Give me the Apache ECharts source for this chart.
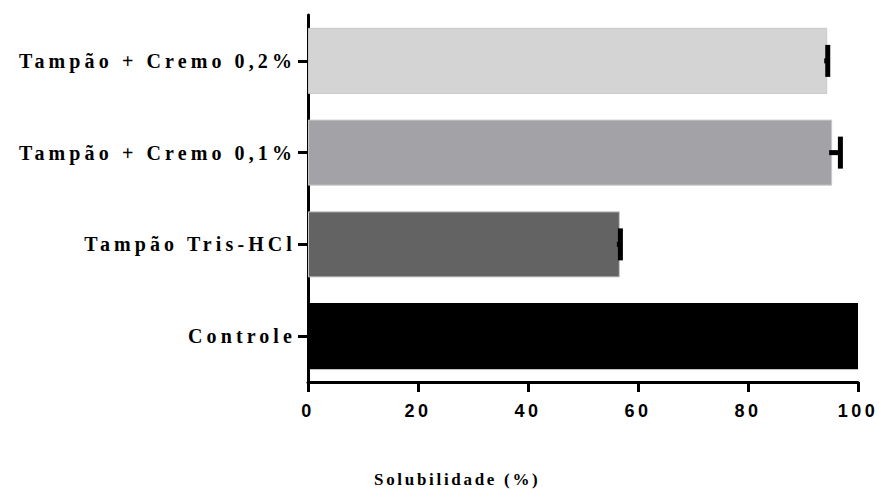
<!DOCTYPE html>
<html>
<head>
<meta charset="utf-8">
<script src="https://cdn.jsdelivr.net/npm/echarts@6/dist/echarts.min.js"></script>
<style>
html,body{margin:0;padding:0;background:#fff;}
#chart{width:879px;height:490px;}
#chart text[style*="Liberation Serif"]{letter-spacing:4.1px;}
#chart text[style*="Liberation Sans"]{letter-spacing:3.5px;}
#chart text[style*="17px"]{letter-spacing:2.7px;}
</style>
</head>
<body>
<div id="chart"></div>
<script>
// Data (bottom to top as drawn on the category axis)
const categories = ['Controle', 'Tampão Tris-HCl', 'Tampão + Cremo 0,1%', 'Tampão + Cremo 0,2%'];
const solubility = [100, 56.7, 95.3, 94.4];
const errorSD = [0, 0.1, 1.5, 0.1];
const barColors = ['#000000', '#636363', '#a3a2a7', '#d4d4d4'];
const xTicks = [0, 20, 40, 60, 80, 100];
const axisTitle = 'Solubilidade (%)';

const chart = echarts.init(document.getElementById('chart'), null, {renderer: 'svg'});

const barData = solubility.map((v, i) => ({
  value: v,
  itemStyle: {color: barColors[i], borderColor: i === 0 ? '#000' : '#c8c8c8', borderWidth: i === 0 ? 0 : 1}
}));

const errData = solubility.map((v, i) => [i, v, errorSD[i]]).filter(d => d[2] > 0);

chart.setOption({
  animation: false,
  title: {
    text: axisTitle,
    left: 369,
    top: 466,
    textStyle: {fontFamily: 'Liberation Serif', fontWeight: 'bold', fontSize: 17, color: '#000'}
  },
  grid: {left: 308, right: 21, top: 15, bottom: 108, containLabel: false},
  xAxis: {
    type: 'value',
    min: xTicks[0],
    max: xTicks[xTicks.length - 1],
    interval: 20,
    splitLine: {show: false},
    axisLine: {show: true, onZero: false, lineStyle: {color: '#000', width: 3}},
    axisTick: {show: true, length: 10, lineStyle: {color: '#000', width: 3}},
    axisLabel: {
      margin: 20,
      color: '#000',
      fontFamily: 'Liberation Sans',
      fontWeight: 'bold',
      fontSize: 18
    }
  },
  yAxis: {
    type: 'category',
    data: categories,
    axisLine: {show: true, lineStyle: {color: '#000', width: 3}},
    axisTick: {show: true, alignWithLabel: true, length: 10, lineStyle: {color: '#000', width: 3}},
    axisLabel: {
      margin: 12,
      color: '#000',
      fontFamily: 'Liberation Serif',
      fontWeight: 'bold',
      fontSize: 20
    }
  },
  series: [
    {
      type: 'bar',
      data: barData,
      barCategoryGap: '28%',
      z: 1
    },
    {
      type: 'custom',
      z: 3,
      data: errData,
      encode: {x: 1, y: 0},
      renderItem: function (params, api) {
        const cat = api.value(0);
        const mean = api.value(1);
        const sd = api.value(2);
        const p0 = api.coord([mean, cat]);
        const p1 = api.coord([mean + sd, cat]);
        const half = 16;
        return {
          type: 'group',
          children: [
            {type: 'line', shape: {x1: p0[0] - 3, y1: p0[1], x2: p1[0], y2: p1[1]}, style: {stroke: '#000', lineWidth: 5}},
            {type: 'line', shape: {x1: p1[0], y1: p1[1] - half, x2: p1[0], y2: p1[1] + half}, style: {stroke: '#000', lineWidth: 5}}
          ]
        };
      }
    }
  ]
});
</script>
</body>
</html>
